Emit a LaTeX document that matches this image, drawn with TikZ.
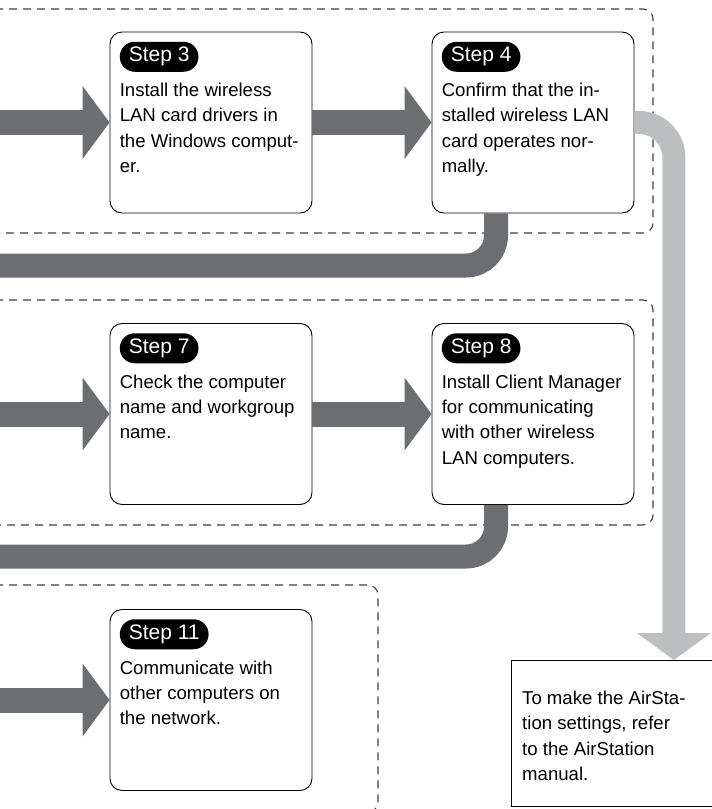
\documentclass[tikz,border=0pt]{standalone}
\usepackage{fontspec}
\setmainfont{Liberation Sans}
\usetikzlibrary{arrows.meta, positioning}
\definecolor{bandgray}{HTML}{6D6E71}
\definecolor{skipgray}{HTML}{BCBEC0}
\definecolor{framegray}{HTML}{3F3F3F}
\tikzset{%
	stepbox/.style={
		draw,
		fill=white,
		line width=0.9pt,
		rounded corners=12pt,
		minimum width=202pt,
		minimum height=181pt
	},
	steptag/.style={
		fill=black,
		text=white,
		rounded corners=15pt,
		minimum height=30pt,
		inner xsep=9pt,
		inner ysep=0pt,
		font=\fontsize{21}{24}\selectfont
	},
	steptext/.style={
		inner sep=0pt,
		align=left,
		font=\fontsize{18.6}{25.3}\selectfont
	},
	groupframe/.style={
		draw=framegray,
		line width=1.1pt,
		dash pattern=on 8pt off 6pt,
		rounded corners=10pt
	},
	bigarrow/.style={
		draw=bandgray,
		line width=25pt,
		-{Triangle[length=27pt, width=73pt, line width=0pt]}
	},
	bandlink/.style={
		draw=bandgray,
		line width=24pt,
		rounded corners=30pt
	},
	skiplink/.style={
		draw=skipgray,
		line width=23pt,
		rounded corners=35pt,
		-{Triangle[length=27pt, width=74pt, line width=0pt]}
	},
}

\begin{document}
\begin{tikzpicture}[x=1pt, y=-1pt]
				\useasboundingbox (0,0) rectangle (712,809);
				\clip (0,0) rectangle (712,809);
				% Dashed groups
				\draw[groupframe] (-5,9) -- (653,9) -- (653,233) -- (-5,233);
				\draw[groupframe] (-5,300) -- (653,300) -- (653,525) -- (-5,525);
				\draw[groupframe] (-5,585) -- (378,585) -- (378,812) -- (-5,812);
				% Step boxes
				\foreach \n/\x/\y in {3/211/122.5, 4/533/122.5, 7/211/414, 8/533/414, 11/211/700}
				{
					\node[stepbox] (step\n) at (\x,\y) {};
				}
				% Free ends at the left edge
				\coordinate (in1) at (-5,122.5);
				\coordinate (in2) at (-5,414);
				\coordinate (in3) at (-5,700);
				\coordinate (wrap1) at (-5,265.5);
				\coordinate (wrap2) at (-5,556.5);
				% Links between rows
				\draw[bandlink] ([xshift=-37pt]step4.south) |- (wrap1);
				\draw[bandlink] ([xshift=-37pt]step8.south) |- (wrap2);
				% Arrows along the rows
				\foreach \a/\b in {in1/step3, step3/step4, in2/step7, step7/step8, in3/step11}
				{
					\draw[bigarrow] (\a) -- (\b);
				}
				% AirStation note
				\node[draw, line width=0.8pt, minimum width=201pt, minimum height=146pt,
				anchor=north west] (air) at (511,660) {};
				\node[steptext, anchor=north west] (airtext) at ([shift={(11pt,-31pt)}]air.north west)
				{To make the AirSta-\\tion settings, refer\\to the AirStation\\manual.};
				\draw[skiplink] (step4.east) -| ([xshift=62pt]air.north);
				% Step labels
				\foreach \n in {3,4,7,8,11}
				{
					\node[steptag, anchor=north west] (tag\n) at ([shift={(10pt,-10pt)}]step\n.north west) {Step \n};
				}
				% Step texts
				\node[steptext, below right=11pt and 0pt of tag3.south west] (text3)
				{Install the wireless\\LAN card drivers in\\the Windows comput-\\er.};
				\node[steptext, below right=11pt and 0pt of tag4.south west] (text4)
				{Confirm that the in-\\stalled wireless LAN\\card operates nor-\\mally.};
				\node[steptext, below right=11pt and 0pt of tag7.south west] (text7)
				{Check the computer\\name and workgroup\\name.};
				\node[steptext, below right=11pt and 0pt of tag8.south west] (text8)
				{Install Client Manager\\for communicating\\with other wireless\\LAN computers.};
				\node[steptext, below right=11pt and 0pt of tag11.south west] (text11)
				{Communicate with\\other computers on\\the network.};
			\end{tikzpicture}
\end{document}
